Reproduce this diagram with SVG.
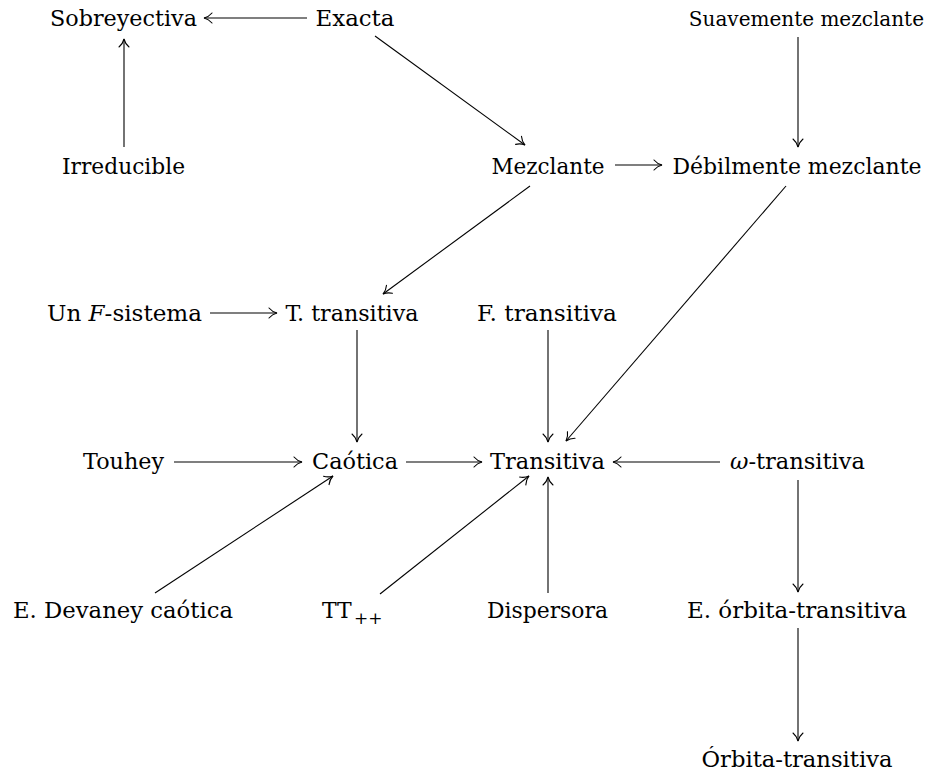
<svg xmlns="http://www.w3.org/2000/svg" width="929" height="777" viewBox="0 0 929 777">
<style>
.e{stroke:#000;stroke-width:1.1;fill:none;marker-end:url(#ah)}
</style>
<defs>
<marker id="ah" markerUnits="userSpaceOnUse" viewBox="-10 -6 12 12" refX="0" refY="0" markerWidth="12" markerHeight="12" orient="auto" overflow="visible">
<path d="M-8,-5 C-5.5,-2 -2.5,-0.6 0,0 C-2.5,0.6 -5.5,2 -8,5" fill="none" stroke="#000" stroke-width="1.1" stroke-linecap="round"/>
</marker>
</defs>
<rect width="929" height="777" fill="#fff"/>
<g font-family="DejaVu Serif, serif" font-size="22" fill="#000" text-anchor="middle">
<g id="n-sobreyectiva"><text x="123.5" y="26" textLength="147" lengthAdjust="spacingAndGlyphs">Sobreyectiva</text></g>
<g id="n-exacta"><text x="355" y="26" textLength="79" lengthAdjust="spacingAndGlyphs">Exacta</text></g>
<g id="n-suavemente"><text x="924" y="26" font-size="20" text-anchor="end">Suavemente mezclante</text></g>
<g id="n-irreducible"><text x="123.5" y="174" textLength="123" lengthAdjust="spacingAndGlyphs">Irreducible</text></g>
<g id="n-mezclante"><text x="548" y="174" textLength="113" lengthAdjust="spacingAndGlyphs">Mezclante</text></g>
<g id="n-debilmente"><text x="797" y="174" textLength="249" lengthAdjust="spacingAndGlyphs">Débilmente mezclante</text></g>
<g id="n-fsistema"><text x="124.5" y="321" textLength="155" lengthAdjust="spacingAndGlyphs">Un <tspan font-style="italic">F</tspan>-sistema</text></g>
<g id="n-ttransitiva"><text x="352" y="321" textLength="133" lengthAdjust="spacingAndGlyphs">T. transitiva</text></g>
<g id="n-ftransitiva"><text x="547" y="321" textLength="140" lengthAdjust="spacingAndGlyphs">F. transitiva</text></g>
<g id="n-touhey"><text x="123.5" y="469" textLength="81" lengthAdjust="spacingAndGlyphs">Touhey</text></g>
<g id="n-caotica"><text x="355" y="469" textLength="86" lengthAdjust="spacingAndGlyphs">Caótica</text></g>
<g id="n-transitiva"><text x="547.5" y="469" textLength="115" lengthAdjust="spacingAndGlyphs">Transitiva</text></g>
<g id="n-omega"><text x="797.5" y="469" textLength="135" lengthAdjust="spacingAndGlyphs"><tspan font-style="italic">ω</tspan>-transitiva</text></g>
<g id="n-devaney"><text x="123" y="618" textLength="220" lengthAdjust="spacingAndGlyphs">E. Devaney caótica</text></g>
<g id="n-tt"><text x="322" y="618" text-anchor="start">TT</text><text x="354" y="624" font-size="17" text-anchor="start">++</text></g>
<g id="n-dispersora"><text x="547.5" y="618" textLength="121" lengthAdjust="spacingAndGlyphs">Dispersora</text></g>
<g id="n-eorbita"><text x="797" y="618" textLength="220" lengthAdjust="spacingAndGlyphs">E. órbita-transitiva</text></g>
<g id="n-orbita"><text x="797" y="767" textLength="191" lengthAdjust="spacingAndGlyphs">Órbita-transitiva</text></g>
</g>
<g id="connectors">
<line class="e" x1="307" y1="18" x2="204" y2="18"/>
<line class="e" x1="124" y1="147" x2="124" y2="39"/>
<line class="e" x1="375" y1="36" x2="525" y2="145"/>
<line class="e" x1="798" y1="37" x2="798" y2="147"/>
<line class="e" x1="615" y1="165" x2="662" y2="165"/>
<line class="e" x1="530" y1="186" x2="383" y2="294"/>
<line class="e" x1="786" y1="186" x2="566" y2="441"/>
<line class="e" x1="210" y1="313" x2="277" y2="313"/>
<line class="e" x1="357" y1="330" x2="357" y2="442"/>
<line class="e" x1="548" y1="330" x2="548" y2="442"/>
<line class="e" x1="174" y1="462" x2="302" y2="462"/>
<line class="e" x1="406" y1="462" x2="482" y2="462"/>
<line class="e" x1="720" y1="462" x2="613" y2="462"/>
<line class="e" x1="798" y1="480" x2="798" y2="592"/>
<line class="e" x1="155" y1="593" x2="333" y2="476"/>
<line class="e" x1="380" y1="594" x2="529" y2="476"/>
<line class="e" x1="548" y1="593" x2="548" y2="477"/>
<line class="e" x1="798" y1="628" x2="798" y2="741"/>
</g>
</svg>
